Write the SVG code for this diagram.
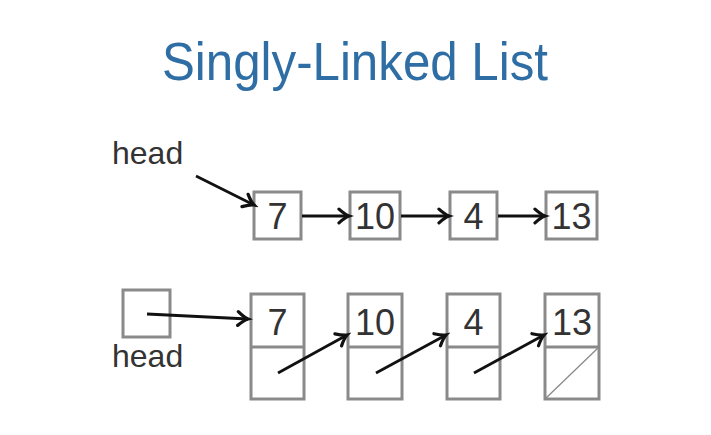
<svg xmlns="http://www.w3.org/2000/svg" width="711" height="435" viewBox="0 0 711 435">
<defs>
<style>
.box{fill:#fff;stroke:#8a8a8a;stroke-width:3}
.num{font-family:"Liberation Sans",Arial,sans-serif;font-size:36px;fill:#333;text-anchor:middle}
.lbl{font-family:"Liberation Sans",Arial,sans-serif;font-size:32px;fill:#333}
.arr{stroke:#111;stroke-width:2.8;fill:none;marker-end:url(#ah)}
</style>
<marker id="ah" markerUnits="userSpaceOnUse" markerWidth="20" markerHeight="20" viewBox="-10 -8 12 16" refX="0" refY="0" orient="auto">
<path d="M-8,-5.5 Q-3,-1 0,0 Q-3,1 -8,5.5" fill="none" stroke="#111" stroke-width="2.6" stroke-linecap="round"/>
</marker>
</defs>
<rect width="711" height="435" fill="#fff"/>
<text x="162" y="80" font-family="Liberation Sans,Arial,sans-serif" font-size="54" fill="#2f6ea5" textLength="386" lengthAdjust="spacingAndGlyphs">Singly-Linked List</text>

<g id="head-label-top"><text class="lbl" x="112" y="164">head</text></g>
<g id="t7"><rect class="box" x="254" y="192" width="47" height="47"/><text class="num" x="277.5" y="229">7</text></g>
<g id="t10"><rect class="box" x="350" y="192" width="50" height="47"/><text class="num" x="375" y="229">10</text></g>
<g id="t4"><rect class="box" x="450" y="192" width="47" height="47"/><text class="num" x="473.5" y="229">4</text></g>
<g id="t13"><rect class="box" x="546" y="192" width="51" height="47"/><text class="num" x="571.5" y="229">13</text></g>

<g id="head-box"><rect class="box" x="123" y="290" width="47" height="47"/><text class="lbl" x="112" y="367">head</text></g>
<g id="b7"><rect class="box" x="251" y="294" width="53" height="105"/><line class="box" x1="251" y1="347" x2="304" y2="347"/><text class="num" x="277.5" y="335">7</text></g>
<g id="b10"><rect class="box" x="348" y="294" width="54" height="105"/><line class="box" x1="348" y1="347" x2="402" y2="347"/><text class="num" x="375" y="335">10</text></g>
<g id="b4"><rect class="box" x="447" y="294" width="53" height="105"/><line class="box" x1="447" y1="347" x2="500" y2="347"/><text class="num" x="473.5" y="335">4</text></g>
<g id="b13"><rect class="box" x="545" y="294" width="54" height="105"/><line class="box" x1="545" y1="347" x2="599" y2="347"/><line x1="545" y1="399" x2="599" y2="347" stroke="#8a8a8a" stroke-width="1.3"/><text class="num" x="572" y="335">13</text></g>

<g id="connectors">
<line class="arr" x1="196" y1="176" x2="254" y2="205"/>
<line class="arr" x1="302" y1="216" x2="349" y2="216"/>
<line class="arr" x1="401" y1="216" x2="449" y2="216"/>
<line class="arr" x1="498" y1="216" x2="545" y2="216"/>
<line class="arr" x1="147" y1="314" x2="248" y2="319"/>
<line class="arr" x1="278" y1="373" x2="347" y2="335"/>
<line class="arr" x1="376" y1="373" x2="446" y2="335"/>
<line class="arr" x1="474" y1="373" x2="544" y2="335"/>
</g>
</svg>
